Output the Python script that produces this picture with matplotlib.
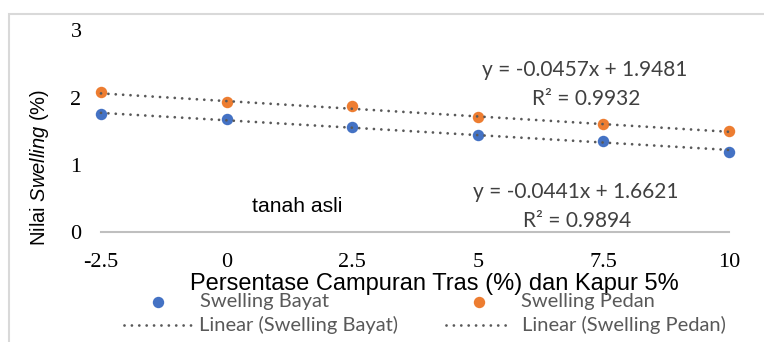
import numpy as np
import matplotlib
matplotlib.use("Agg")
import matplotlib.pyplot as plt
from matplotlib.lines import Line2D
from matplotlib.patches import Rectangle

# data
campuran_tras = [-2.5, 0, 2.5, 5, 7.5, 10]
swelling_bayat = [1.76, 1.68, 1.56, 1.45, 1.35, 1.19]
swelling_pedan = [2.08, 1.94, 1.87, 1.71, 1.61, 1.50]

# trendline coefficients shown on the chart (slope, intercept, R2)
fit_bayat = (-0.0441, 1.6621, 0.9894)
fit_pedan = (-0.0457, 1.9481, 0.9932)

y_ticks = [0, 1, 2, 3]
x_ticks = [-2.5, 0, 2.5, 5, 7.5, 10]
x_tick_labels = ["-2.5", "0", "2.5", "5", "7.5", "10"]

BLUE = "#4472C4"
ORANGE = "#ED7D31"
TREND = "#595959"
W, H = 764, 342

plt.rcParams["mathtext.fontset"] = "custom"
plt.rcParams["mathtext.rm"] = "Liberation Sans"
plt.rcParams["mathtext.it"] = "Liberation Sans:italic"


def fx(px):
    return px / W


def fy(py):
    return 1 - py / H


fig = plt.figure(figsize=(W / 100, H / 100), dpi=100)
fig.patch.set_facecolor("white")

# outer chart border (light grey, cut at right/bottom)
fig.add_artist(Rectangle((fx(9), fy(400)), fx(800), (400 - 14) / H,
                         transform=fig.transFigure, fill=False,
                         edgecolor="#d9d9d9", linewidth=1.5))

ax = fig.add_axes([fx(101), fy(232), fx(729) - fx(101), fy(30.4) - fy(232)])
ax.set_xlim(-2.5, 10)
ax.set_ylim(0, 3)

x = np.array(campuran_tras)
ax.scatter(x, swelling_bayat, s=68, color=BLUE, zorder=3, clip_on=False, linewidths=0)
ax.scatter(x, swelling_pedan, s=68, color=ORANGE, zorder=3, clip_on=False, linewidths=0)

dotted = (0, (0.01, 2.65))
for slope, icpt, _ in (fit_bayat, fit_pedan):
    ax.plot(x, slope * x + icpt, color=TREND, linewidth=2.0, linestyle=dotted,
            dash_capstyle="round", zorder=4, clip_on=False)

for s in ["top", "right", "left"]:
    ax.spines[s].set_visible(False)
ax.spines["bottom"].set_color("#bfbfbf")
ax.spines["bottom"].set_linewidth(1.5)

ax.set_xticks(x_ticks)
ax.set_xticklabels(x_tick_labels)
ax.set_yticks(y_ticks)
ax.tick_params(axis="both", length=0, labelsize=16)
ax.tick_params(axis="x", pad=15)
ax.tick_params(axis="y", pad=14)
for lab in ax.get_xticklabels() + ax.get_yticklabels():
    lab.set_fontfamily("Liberation Serif")

# axis titles
fig.text(fx(434), fy(284), "Persentase Campuran Tras (%) dan Kapur 5%",
         ha="center", va="center", fontsize=17, family="Liberation Sans")
fig.text(fx(40), fy(167), r"Nilai $Swelling$ (%)", rotation=90,
         ha="center", va="center", fontsize=14.5, family="Liberation Sans")

# trendline labels
eq_font = dict(ha="center", va="center", fontsize=15, family="Lato", color="#404040")
for (slope, icpt, r2), (cx, cy) in ((fit_pedan, (585, 70)), (fit_bayat, (576, 192))):
    fig.text(fx(cx), fy(cy), f"y = {slope:.4f}x + {icpt:.4f}", **eq_font)
    fig.text(fx(cx + 1), fy(cy + 29), f"R² = {r2:.4f}", **eq_font)

fig.text(fx(297), fy(206), "tanah asli", ha="center", va="center",
         fontsize=15.2, family="Liberation Sans")

# legend, placed by hand like the original
leg_font = dict(ha="left", va="center", fontsize=14.5, family="Lato", color="#595959")
fig.add_artist(Line2D([fx(158)], [fy(302)], marker="o", markersize=8.2, color=BLUE,
                      markeredgewidth=0, transform=fig.transFigure))
fig.add_artist(Line2D([fx(479)], [fy(302)], marker="o", markersize=8.2, color=ORANGE,
                      markeredgewidth=0, transform=fig.transFigure))
fig.text(fx(200), fy(301), "Swelling Bayat", **leg_font)
fig.text(fx(521), fy(301), "Swelling Pedan", **leg_font)
for x0, x1 in ((124, 192), (446, 508)):
    fig.add_artist(Line2D([fx(x0), fx(x1)], [fy(325), fy(325)], color=TREND,
                          linewidth=2.0, linestyle=dotted, dash_capstyle="round",
                          transform=fig.transFigure))
fig.text(fx(199), fy(325), "Linear (Swelling Bayat)", **leg_font)
fig.text(fx(522), fy(325), "Linear (Swelling Pedan)", **leg_font)

fig.savefig("out.png", dpi=100)
